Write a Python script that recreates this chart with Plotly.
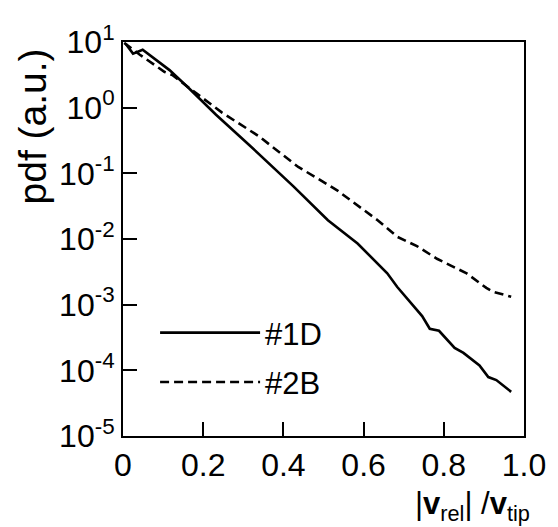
import plotly.graph_objects as go

# Series #1D (solid)
x_1d = [0.007, 0.025, 0.049, 0.116, 0.165, 0.232, 0.314, 0.425, 0.511, 0.585,
        0.659, 0.684, 0.746, 0.765, 0.788, 0.827, 0.849, 0.889, 0.911, 0.931, 0.968]
y_1d = [9.3, 6.65, 7.6, 3.73, 1.96, 0.78, 0.273, 0.0634, 0.0193, 0.00855,
        0.0030, 0.00186, 6.7e-4, 4.3e-4, 4.0e-4, 2.19e-4, 1.84e-4, 1.19e-4, 7.9e-5, 7.1e-5, 4.7e-5]

# Series #2B (dashed)
x_2b = [0.003, 0.042, 0.104, 0.123, 0.183, 0.247, 0.338, 0.437, 0.486, 0.536,
        0.635, 0.684, 0.733, 0.783, 0.857, 0.881, 0.906, 0.923, 0.968]
y_2b = [9.7, 6.4, 3.49, 3.15, 1.65, 0.84, 0.37, 0.125, 0.083, 0.054,
        0.0193, 0.0108, 0.0078, 0.005, 0.003, 0.00235, 0.0018, 0.00157, 0.00132]

x_tickvals = [0, 0.2, 0.4, 0.6, 0.8, 1.0]
x_ticktext = ["0", "0.2", "0.4", "0.6", "0.8", "1.0"]
y_tickvals = [1e-5, 1e-4, 1e-3, 1e-2, 1e-1, 1e0, 1e1]
y_ticktext = ["10<sup>-5</sup>", "10<sup>-4</sup>", "10<sup>-3</sup>", "10<sup>-2</sup>",
              "10<sup>-1</sup>", "10<sup>0</sup>", "10<sup>1</sup>"]

FONT = "Liberation Sans, Arial, sans-serif"

fig = go.Figure()
fig.add_trace(go.Scatter(x=x_1d, y=y_1d, mode="lines", name="#1D",
                         legendgroup="a",
                         line=dict(color="black", width=2.6)))
fig.add_trace(go.Scatter(x=x_2b, y=y_2b, mode="lines", name="#2B",
                         legendgroup="b",
                         line=dict(color="black", width=2.6, dash="9px,5px")))

axis_common = dict(showgrid=False, zeroline=False, showline=True, linecolor="black",
                   linewidth=2, mirror=True, ticks="inside", ticklen=14, tickwidth=2,
                   tickcolor="black", ticklabeloverflow="allow",
                   tickfont=dict(family=FONT, size=32, color="black"))

fig.update_xaxes(range=[0, 1], tickvals=x_tickvals, ticktext=x_ticktext, **axis_common)
fig.update_yaxes(type="log", range=[-5, 1], tickvals=y_tickvals, ticktext=y_ticktext,
                 **axis_common)

# y-axis title (placed in upper part as in reference)
fig.add_annotation(text="pdf (a.u.)", xref="paper", yref="paper",
                   x=-0.225, y=0.785, xanchor="center", yanchor="middle",
                   textangle=-90, showarrow=False,
                   font=dict(family=FONT, size=39, color="black"))

# x-axis title
fig.add_annotation(text="|<b>v</b><sub>rel</sub>| /<b>v</b><sub>tip</sub>",
                   xref="paper", yref="paper", x=1.02, y=-0.177,
                   xanchor="right", yanchor="middle", showarrow=False,
                   font=dict(family=FONT, size=31, color="black"))

# body has an 8px default margin: shrink the figure so the plot area lands right
fig.update_layout(
    width=550, height=519,
    margin=dict(l=115, r=30, t=21, b=91),
    paper_bgcolor="white", plot_bgcolor="white",
    font=dict(family=FONT, color="black"),
    legend=dict(x=0.08, y=0.33, xanchor="left", yanchor="top",
                bgcolor="rgba(0,0,0,0)", itemwidth=100,
                traceorder="grouped", tracegroupgap=6,
                font=dict(family=FONT, size=31, color="black")),
)

fig.write_html("out.html")
